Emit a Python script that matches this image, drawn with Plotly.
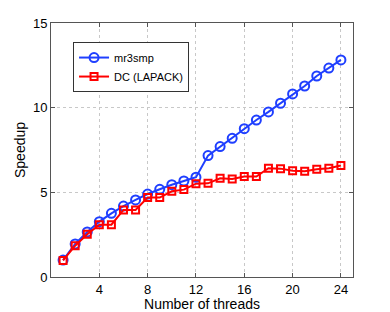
import plotly.graph_objects as go

threads = list(range(1, 25))
mr3smp = [1.0, 1.95, 2.66, 3.27, 3.76, 4.19, 4.55, 4.90, 5.18, 5.45, 5.67, 5.89,
          7.17, 7.70, 8.19, 8.76, 9.27, 9.75, 10.26, 10.81, 11.28, 11.87, 12.34, 12.82]
dc_lapack = [0.98, 1.85, 2.52, 3.09, 3.09, 3.96, 3.96, 4.69, 4.69, 5.06, 5.16, 5.51,
             5.53, 5.83, 5.79, 5.93, 5.93, 6.42, 6.40, 6.28, 6.24, 6.36, 6.42, 6.58]
x_ticks = [4, 8, 12, 16, 20, 24]
y_ticks = [0, 5, 10, 15]

fig = go.Figure()
fig.add_trace(go.Scatter(
    x=threads, y=mr3smp, mode="lines+markers", name="mr3smp",
    line=dict(color="#1f3fff", width=2),
    marker=dict(symbol="circle-open", size=9, color="#1f3fff", line=dict(width=2)),
))
fig.add_trace(go.Scatter(
    x=threads, y=dc_lapack, mode="lines+markers", name="DC (LAPACK)",
    line=dict(color="#ff0000", width=2),
    marker=dict(symbol="square-open", size=7, color="#ff0000", line=dict(width=2)),
))

axis_common = dict(
    showline=True, linecolor="#555555", linewidth=1, mirror="ticks",
    ticks="inside", ticklen=4, tickcolor="#555555",
    showgrid=True, gridcolor="#c8c8c8", griddash="dot", gridwidth=1,
    zeroline=False, tickfont=dict(size=13, color="black"), automargin=False,
)
fig.update_xaxes(range=[0, 25], tickvals=x_ticks,
                 title=dict(text="Number of threads", font=dict(size=14, color="black"), standoff=0),
                 **axis_common)
fig.update_yaxes(range=[0, 15], tickvals=y_ticks,
                 title=dict(text="Speedup", font=dict(size=14, color="black"), standoff=4),
                 **axis_common)

# The page body has an 8px default margin; compensate so the plot area lands where the reference has it.
fig.update_layout(
    width=382, height=304,
    margin=dict(l=43, r=37, t=15, b=35),
    paper_bgcolor="white", plot_bgcolor="white",
    font=dict(family="Liberation Sans, Arial, sans-serif", color="black"),
    legend=dict(x=0.073, y=0.925, xanchor="left", yanchor="top",
                bgcolor="white", bordercolor="#333333", borderwidth=1,
                font=dict(size=11), tracegroupgap=0, itemwidth=30),
    showlegend=True,
)

fig.write_html("out.html")
